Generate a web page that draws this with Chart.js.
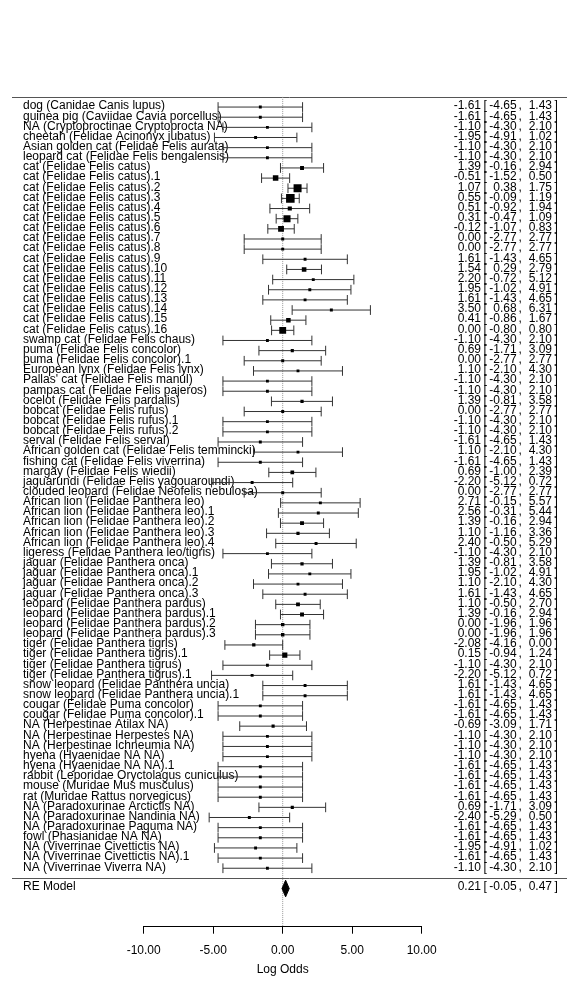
<!DOCTYPE html>
<html><head><meta charset="utf-8">
<script src="https://cdn.jsdelivr.net/npm/chart.js@4.4.1/dist/chart.umd.min.js"></script>
<style>html,body{margin:0;padding:0;background:#fff}#wrap{width:580px;height:1000px;position:relative}</style>
</head><body><div id="wrap"><canvas id="c"></canvas></div>
<script>
const studies = [
"dog (Canidae Canis lupus)","guinea pig (Caviidae Cavia porcellus)","NA (Cryptoproctinae Cryptoprocta NA)",
"cheetah (Felidae Acinonyx jubatus)","Asian golden cat (Felidae Felis aurata)","leopard cat (Felidae Felis bengalensis)",
"cat (Felidae Felis catus)","cat (Felidae Felis catus).1","cat (Felidae Felis catus).2","cat (Felidae Felis catus).3",
"cat (Felidae Felis catus).4","cat (Felidae Felis catus).5","cat (Felidae Felis catus).6","cat (Felidae Felis catus).7",
"cat (Felidae Felis catus).8","cat (Felidae Felis catus).9","cat (Felidae Felis catus).10","cat (Felidae Felis catus).11",
"cat (Felidae Felis catus).12","cat (Felidae Felis catus).13","cat (Felidae Felis catus).14","cat (Felidae Felis catus).15",
"cat (Felidae Felis catus).16","swamp cat (Felidae Felis chaus)","puma (Felidae Felis concolor)","puma (Felidae Felis concolor).1",
"European lynx (Felidae Felis lynx)","Pallas' cat (Felidae Felis manul)","pampas cat (Felidae Felis pajeros)",
"ocelot (Felidae Felis pardalis)","bobcat (Felidae Felis rufus)","bobcat (Felidae Felis rufus).1","bobcat (Felidae Felis rufus).2",
"serval (Felidae Felis serval)","African golden cat (Felidae Felis temmincki)","fishing cat (Felidae Felis viverrina)",
"margay (Felidae Felis wiedii)","jaguarundi (Felidae Felis yagouaroundi)","clouded leopard (Felidae Neofelis nebulosa)",
"African lion (Felidae Panthera leo)","African lion (Felidae Panthera leo).1","African lion (Felidae Panthera leo).2",
"African lion (Felidae Panthera leo).3","African lion (Felidae Panthera leo).4","ligeress (Felidae Panthera leo/tigris)",
"jaguar (Felidae Panthera onca)","jaguar (Felidae Panthera onca).1","jaguar (Felidae Panthera onca).2","jaguar (Felidae Panthera onca).3",
"leopard (Felidae Panthera pardus)","leopard (Felidae Panthera pardus).1","leopard (Felidae Panthera pardus).2","leopard (Felidae Panthera pardus).3",
"tiger (Felidae Panthera tigris)","tiger (Felidae Panthera tigris).1","tiger (Felidae Panthera tigrus)","tiger (Felidae Panthera tigrus).1",
"snow leopard (Felidae Panthera uncia)","snow leopard (Felidae Panthera uncia).1","cougar (Felidae Puma concolor)","cougar (Felidae Puma concolor).1",
"NA (Herpestinae Atilax NA)","NA (Herpestinae Herpestes NA)","NA (Herpestinae Ichneumia NA)","hyena (Hyaenidae NA NA)","hyena (Hyaenidae NA NA).1",
"rabbit (Leporidae Oryctolagus cuniculus)","mouse (Muridae Mus musculus)","rat (Muridae Rattus norvegicus)",
"NA (Paradoxurinae Arctictis NA)","NA (Paradoxurinae Nandinia NA)","NA (Paradoxurinae Paguma NA)","fowl (Phasianidae NA NA)",
"NA (Viverrinae Civettictis NA)","NA (Viverrinae Civettictis NA).1","NA (Viverrinae Viverra NA)"
];
const estimates = [
-1.61,-1.61,-1.10,-1.95,-1.10,-1.10,
1.39,-0.51,1.07,0.55,0.51,0.31,-0.12,0.00,0.00,1.61,1.54,2.20,1.95,1.61,3.50,0.41,0.00,
-1.10,0.69,0.00,1.10,-1.10,-1.10,1.39,0.00,-1.10,-1.10,-1.61,1.10,-1.61,0.69,-2.20,0.00,
2.71,2.56,1.39,1.10,2.40,-1.10,1.39,1.95,1.10,1.61,1.10,1.39,0.00,0.00,
-2.08,0.15,-1.10,-2.20,1.61,1.61,-1.61,-1.61,-0.69,-1.10,-1.10,-1.10,-1.61,
-1.61,-1.61,-1.61,0.69,-2.40,-1.61,-1.61,-1.95,-1.61,-1.10
];
const lower = [
-4.65,-4.65,-4.30,-4.91,-4.30,-4.30,
-0.16,-1.52,0.38,-0.09,-0.92,-0.47,-1.07,-2.77,-2.77,-1.43,0.29,-0.72,-1.02,-1.43,0.68,-0.86,-0.80,
-4.30,-1.71,-2.77,-2.10,-4.30,-4.30,-0.81,-2.77,-4.30,-4.30,-4.65,-2.10,-4.65,-1.00,-5.12,-2.77,
-0.15,-0.31,-0.16,-1.16,-0.50,-4.30,-0.81,-1.02,-2.10,-1.43,-0.50,-0.16,-1.96,-1.96,
-4.16,-0.94,-4.30,-5.12,-1.43,-1.43,-4.65,-4.65,-3.09,-4.30,-4.30,-4.30,-4.65,
-4.65,-4.65,-4.65,-1.71,-5.29,-4.65,-4.65,-4.91,-4.65,-4.30
];
const upper = [
1.43,1.43,2.10,1.02,2.10,2.10,
2.94,0.50,1.75,1.19,1.94,1.09,0.83,2.77,2.77,4.65,2.79,5.12,4.91,4.65,6.31,1.67,0.80,
2.10,3.09,2.77,4.30,2.10,2.10,3.58,2.77,2.10,2.10,1.43,4.30,1.43,2.39,0.72,2.77,
5.57,5.44,2.94,3.36,5.29,2.10,3.58,4.91,4.30,4.65,2.70,2.94,1.96,1.96,
0.00,1.24,2.10,0.72,4.65,4.65,1.43,1.43,1.71,2.10,2.10,2.10,1.43,
1.43,1.43,1.43,3.09,0.50,1.43,1.43,1.02,1.43,2.10
];
const reLabel = "RE Model";
const reEstimate = 0.21, reLower = -0.05, reUpper = 0.47;
const xTicks = [-10, -5, 0, 5, 10];
const xTitle = "Log Odds";

const FONT = '"Liberation Sans", Arial, Helvetica, sans-serif';
const n = studies.length;
const rows = studies.map((s, i) => n - i);
const Y_MIN = -4.76, Y_MAX = 77.68;
const TOP_ROW = n + 1, RE_ROW = -1;

// box sizes from inverse-variance weights
const vi = lower.map((l, i) => Math.pow((upper[i] - l) / 3.92, 2));
const wi = vi.map(v => 1 / (v + 0.05));
const wmin = Math.min(...wi), wmax = Math.max(...wi);
const boxRadius = wi.map(w => (5.7 * (0.5 + (w - wmin) / (wmax - wmin))) / Math.SQRT2);

const ciData = [];
const CAP = 0.48;
studies.forEach((s, i) => {
  const y = rows[i];
  ciData.push({x: lower[i], y}, {x: upper[i], y}, {x: lower[i], y: null});
  ciData.push({x: lower[i], y: y - CAP}, {x: lower[i], y: y + CAP}, {x: lower[i], y: null});
  ciData.push({x: upper[i], y: y - CAP}, {x: upper[i], y: y + CAP}, {x: upper[i], y: null});
});
const DH = 0.82;
const diamond = [
  {x: reLower, y: RE_ROW}, {x: reEstimate, y: RE_ROW + DH},
  {x: reUpper, y: RE_ROW}, {x: reEstimate, y: RE_ROW - DH}, {x: reLower, y: RE_ROW}
];

function annot(ctx, y, est, lo, hi) {
  ctx.textAlign = 'right';
  ctx.fillText(est.toFixed(2), 481, y);
  ctx.textAlign = 'left';
  ctx.fillText('[', 483.5, y);
  ctx.textAlign = 'right';
  ctx.fillText(lo.toFixed(2), 516.7, y);
  ctx.textAlign = 'left';
  ctx.fillText(',', 518.5, y);
  ctx.textAlign = 'right';
  ctx.fillText(hi.toFixed(2), 552, y);
  ctx.textAlign = 'left';
  ctx.fillText(']', 554.5, y);
}

const forestText = {
  id: 'forestText',
  beforeDatasetsDraw(chart) {
    const ctx = chart.ctx, ys = chart.scales.y;
    ctx.save();
    ctx.strokeStyle = '#555';
    ctx.lineWidth = 1;
    [TOP_ROW, 0].forEach(v => {
      const y = Math.round(ys.getPixelForValue(v)) + 0.5;
      ctx.beginPath(); ctx.moveTo(12, y); ctx.lineTo(567, y); ctx.stroke();
    });
    ctx.font = '12px ' + FONT;
    ctx.fillStyle = '#000';
    ctx.textBaseline = 'middle';
    studies.forEach((s, i) => {
      const y = ys.getPixelForValue(rows[i]) - 1;
      ctx.textAlign = 'left';
      ctx.fillText(s, 23, y);
      annot(ctx, y, estimates[i], lower[i], upper[i]);
    });
    const yr = ys.getPixelForValue(RE_ROW) - 2;
    ctx.textAlign = 'left';
    ctx.fillText(reLabel, 23, yr);
    annot(ctx, yr, reEstimate, reLower, reUpper);
    ctx.restore();
  }
};

new Chart(document.getElementById('c'), {
  type: 'scatter',
  data: {
    datasets: [
      {
        label: 'estimates',
        data: estimates.map((e, i) => ({x: e, y: rows[i]})),
        pointStyle: 'rect',
        pointRadius: boxRadius,
        pointBorderWidth: 0,
        pointBackgroundColor: '#000',
        showLine: false,
        order: 0
      },
      {
        label: 'RE',
        type: 'line',
        data: diamond,
        borderColor: '#000',
        borderWidth: 1,
        backgroundColor: '#000',
        fill: 'shape',
        pointRadius: 0,
        tension: 0,
        order: 1
      },
      {
        label: 'ci',
        type: 'line',
        data: ciData,
        borderColor: '#333',
        borderWidth: 1,
        pointRadius: 0,
        spanGaps: false,
        tension: 0,
        order: 2
      },
      {
        label: 'ref',
        type: 'line',
        data: [{x: 0, y: TOP_ROW}, {x: 0, y: Y_MIN}],
        borderColor: '#999',
        borderWidth: 1,
        borderDash: [1, 1],
        pointRadius: 0,
        order: 3
      }
    ]
  },
  options: {
    responsive: true,
    maintainAspectRatio: false,
    animation: false,
    layout: {padding: {left: 143.7, right: 158.3, top: 90, bottom: 0}},
    plugins: {legend: {display: false}, tooltip: {enabled: false}},
    scales: {
      x: {
        type: 'linear', min: -10, max: 10, position: 'bottom',
        afterBuildTicks: s => { s.ticks = xTicks.map(v => ({value: v})); },
        afterFit: s => { s.height = 73.3; },
        border: {display: true, color: '#000', width: 1},
        grid: {drawOnChartArea: false, drawTicks: true, tickLength: 7, color: '#000'},
        ticks: {color: '#000', font: {family: FONT, size: 12}, padding: 10, maxRotation: 0, autoSkip: false,
                callback: v => Number(v).toFixed(2)},
        title: {display: true, text: xTitle, color: '#000', font: {family: FONT, size: 12}, padding: {top: 0, bottom: 23.5}}
      },
      y: {type: 'linear', display: false, min: Y_MIN, max: Y_MAX}
    }
  },
  plugins: [forestText]
});
</script>
</body></html>
